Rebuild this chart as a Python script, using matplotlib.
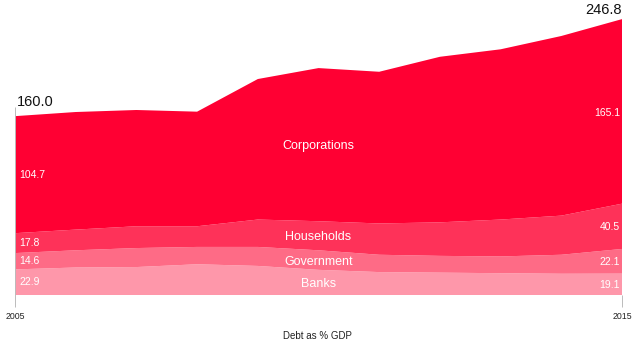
import matplotlib
matplotlib.use("Agg")
import matplotlib.pyplot as plt
import numpy as np

# debt as % of GDP
years = [2005, 2006, 2007, 2008, 2009, 2010, 2011, 2012, 2013, 2014, 2015]
banks = [22.9, 24.6, 25.0, 27.5, 26.0, 22.5, 20.5, 20.0, 19.5, 19.0, 19.1]
government = [14.6, 15.4, 17.0, 15.5, 17.0, 17.5, 15.5, 15.0, 15.0, 17.0, 22.1]
households = [17.8, 18.5, 19.5, 18.5, 24.5, 26.0, 28.0, 30.0, 33.0, 35.0, 40.5]
corporations = [104.7, 105.2, 104.0, 102.5, 125.7, 137.0, 135.7, 148.1, 152.3, 160.7, 165.1]

sectors = ["Banks", "Government", "Households", "Corporations"]
colors = ["#fe97aa", "#fe6b86", "#fe3259", "#ff0033"]

plt.rcParams["font.family"] = ["Liberation Sans", "DejaVu Sans"]

fig = plt.figure(figsize=(6.44, 3.46), dpi=100)
ax = fig.add_axes([15 / 644, 51 / 346, 607 / 644, 295 / 346])

layers = np.array([banks, government, households, corporations])
ax.stackplot(years, layers, colors=colors, linewidth=0)
tops = layers.cumsum(axis=0)
bottoms = tops - layers
totals = tops[-1]

ax.set_xlim(years[0], years[-1])
ax.set_ylim(0, 263.9)
ax.axis("off")

# thin guide lines at both ends
ax.vlines(years[0], -11, totals[0] + 8, color="#bbbbbb", lw=0.7, clip_on=False)
ax.vlines(years[-1], -11, 0, color="#bbbbbb", lw=0.7, clip_on=False)

# totals
ax.text(years[0] + 0.03, totals[0] + 6, f"{totals[0]:.1f}", fontsize=10.5,
        color="#111111", ha="left", va="bottom")
ax.text(years[-1], totals[-1] + 2, f"{totals[-1]:.1f}", fontsize=10.5,
        color="#111111", ha="right", va="bottom")

# layer values at both ends + sector names in the middle
mid_i = years.index(2010)
for i, name in enumerate(sectors):
    lo, hi = bottoms[i], tops[i]
    ax.text(years[0] + 0.07, (lo[0] + hi[0]) / 2, f"{layers[i][0]:.1f}",
            fontsize=7.5, color="white", ha="left", va="center")
    ax.text(years[-1] - 0.03, (lo[-1] + hi[-1]) / 2 - 1, f"{layers[i][-1]:.1f}",
            fontsize=7.5, color="white", ha="right", va="center")
    ax.text(years[mid_i], (lo[mid_i] + hi[mid_i]) / 2 - 1.5, name,
            fontsize=9, color="white", ha="center", va="center")

# year labels
ax.text(years[0], -15, str(years[0]), fontsize=6.3, ha="center", va="top", color="#222222")
ax.text(years[-1], -15, str(years[-1]), fontsize=6.3, ha="center", va="top", color="#222222")

fig.text(317 / 644, 1 - 336 / 346, "Debt as % GDP", fontsize=7, ha="center",
         va="center", color="#222222")

fig.savefig("out.png", dpi=100)
